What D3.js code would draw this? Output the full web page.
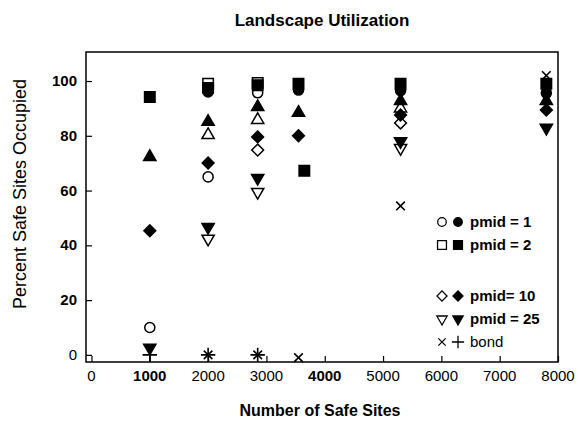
<!DOCTYPE html>
<html>
<head>
<meta charset="utf-8">
<script src="https://cdn.jsdelivr.net/npm/d3@7"></script>
<style>
  body { margin: 0; background: #fff; }
  text { font-family: "Liberation Sans", Arial, sans-serif; fill: #000; }
</style>
</head>
<body>
<div id="canvas"></div>
<script>
// [sites, percent occupied]
const pmid1Open = [[1000, 10], [2000, 65], [2850, 95.7]];
const pmid1Filled = [[2000, 96], [3550, 96.7], [5300, 96.5], [7800, 95.6]];
const pmid2Open = [[2000, 99], [2850, 99.3]];
const pmid2Filled = [[1000, 94.2], [2000, 97.5], [2850, 98.5], [3550, 99], [3650, 67.2], [5300, 99], [7800, 99]];
const pmid5Open = [[2000, 80.3], [2850, 85.8], [5300, 90]];
const pmid5Filled = [[1000, 72.3], [2000, 85.1], [2850, 90.5], [3550, 88.4], [5300, 92.7], [7800, 92.7]];
const pmid10Open = [[2850, 74.8], [5300, 84.7]];
const pmid10Filled = [[1000, 45.3], [2000, 70.1], [2850, 79.6], [3550, 80], [5300, 87.6], [7800, 89.4]];
const pmid25Open = [[2000, 42.4], [2850, 59.5], [5300, 75.5]];
const pmid25Filled = [[1000, 2.6], [2000, 46.7], [2850, 64.6], [5300, 78], [7800, 82.9]];
const bondX = [[2000, 0], [2850, 0], [3550, -1], [5300, 54.4], [7800, 102]];
const bondPlus = [[1000, 0], [2000, 0], [2850, 0]];

const xTicks = [0, 1000, 2000, 3000, 4000, 5000, 6000, 7000, 8000];
const yTicks = [0, 20, 40, 60, 80, 100];
const legendRows = ["pmid = 1", "pmid = 2", "", "pmid= 10", "pmid = 25", "bond"];

const width = 580;
const height = 426;

const svg = d3.select("#canvas").append("svg")
  .attr("width", width)
  .attr("height", height);

const x = d3.scaleLinear().domain([-94, 8000]).range([86, 558]);
const y = d3.scaleLinear().domain([-2.6, 110.6]).range([362, 52]);

// frame
svg.append("rect")
  .attr("x", 86).attr("y", 52)
  .attr("width", 558 - 86).attr("height", 362 - 52)
  .attr("fill", "none").attr("stroke", "#000").attr("stroke-width", 1.5);

// axes with inward ticks
const xAxis = svg.append("g")
  .attr("transform", "translate(0,362)")
  .call(d3.axisTop(x).tickValues(xTicks).tickSize(6).tickFormat(""));
xAxis.select(".domain").remove();
xAxis.selectAll("line").attr("stroke-width", 1.2);

svg.selectAll(".xlab").data(xTicks).enter().append("text")
  .attr("class", "xlab")
  .attr("x", d => x(d))
  .attr("y", 381)
  .attr("text-anchor", "middle")
  .style("font-size", "15px")
  .style("font-weight", d => (d === 1000 || d === 4000) ? "bold" : "normal")
  .text(d => d);

const yAxis = svg.append("g")
  .attr("transform", "translate(86,0)")
  .call(d3.axisRight(y).tickValues(yTicks).tickSize(6).tickFormat(""));
yAxis.select(".domain").remove();
yAxis.selectAll("line").attr("stroke-width", 1.2);

svg.selectAll(".ylab").data(yTicks).enter().append("text")
  .attr("class", "ylab")
  .attr("x", 77)
  .attr("y", d => y(d) + 5)
  .attr("text-anchor", "end")
  .style("font-size", "15px")
  .style("font-weight", d => d === 0 ? "normal" : "bold")
  .text(d => d);

// titles
svg.append("text")
  .attr("x", 322).attr("y", 26)
  .attr("text-anchor", "middle")
  .style("font-size", "17px").style("font-weight", "bold")
  .text("Landscape Utilization");

svg.append("text")
  .attr("x", 320).attr("y", 416)
  .attr("text-anchor", "middle")
  .style("font-size", "16px").style("font-weight", "bold")
  .text("Number of Safe Sites");

svg.append("text")
  .attr("transform", "translate(26,194) rotate(-90)")
  .attr("text-anchor", "middle")
  .style("font-size", "18px")
  .text("Percent Safe Sites Occupied");

// marker styles
const sq = d3.symbol().type(d3.symbolSquare).size(110)();
const circ = d3.symbol().type(d3.symbolCircle).size(80)();
const tri = d3.symbol().type(d3.symbolTriangle).size(65)();
const dia = d3.symbol().type(d3.symbolSquare).size(70)();
const times = d3.symbol().type(d3.symbolTimes).size(50)();
const plus = d3.symbol().type(d3.symbolPlus).size(70)();

const series = [
  { data: pmid1Open, path: circ, rot: 0, filled: false },
  { data: pmid5Open, path: tri, rot: 0, filled: false },
  { data: pmid10Open, path: dia, rot: 45, filled: false },
  { data: pmid25Open, path: tri, rot: 180, filled: false },
  { data: pmid2Open, path: sq, rot: 0, filled: false },
  { data: pmid2Filled, path: sq, rot: 0, filled: true },
  { data: pmid1Filled, path: circ, rot: 0, filled: true },
  { data: pmid5Filled, path: tri, rot: 0, filled: true },
  { data: pmid10Filled, path: dia, rot: 45, filled: true },
  { data: pmid25Filled, path: tri, rot: 180, filled: true },
  { data: bondX, path: times, rot: 0, filled: false, stroke: true },
  { data: bondPlus, path: plus, rot: 0, filled: false, stroke: true }
];

series.forEach(s => {
  svg.append("g").selectAll("path").data(s.data).enter().append("path")
    .attr("d", s.path)
    .attr("transform", d => `translate(${x(d[0])},${y(d[1])}) rotate(${s.rot})`)
    .attr("fill", s.stroke ? "none" : (s.filled ? "#000" : "#fff"))
    .attr("stroke", "#000")
    .attr("stroke-width", s.stroke ? 1.6 : 1.5);
});

// legend
const legendSym = [
  [circ, 0, circ, 0],
  [sq, 0, sq, 0],
  null,
  [dia, 45, dia, 45],
  [tri, 180, tri, 180],
  [times, 0, plus, 0]
];
const legY = [222, 245, 270, 296, 319, 342];

const leg = svg.append("g");
legendRows.forEach((label, i) => {
  const sym = legendSym[i];
  if (!sym) return;
  const isBond = label === "bond";
  leg.append("path")
    .attr("d", sym[0])
    .attr("transform", `translate(442,${legY[i]}) rotate(${sym[1]}) scale(0.85)`)
    .attr("fill", isBond ? "none" : "#fff")
    .attr("stroke", "#000").attr("stroke-width", 1.5);
  leg.append("path")
    .attr("d", sym[2])
    .attr("transform", `translate(458,${legY[i]}) rotate(${sym[3]}) scale(0.85)`)
    .attr("fill", isBond ? "none" : "#000")
    .attr("stroke", "#000").attr("stroke-width", 1.5);
  leg.append("text")
    .attr("x", 470).attr("y", legY[i] + 5)
    .style("font-size", "15px")
    .style("font-weight", isBond ? "normal" : "bold")
    .text(label);
});
</script>
</body>
</html>
